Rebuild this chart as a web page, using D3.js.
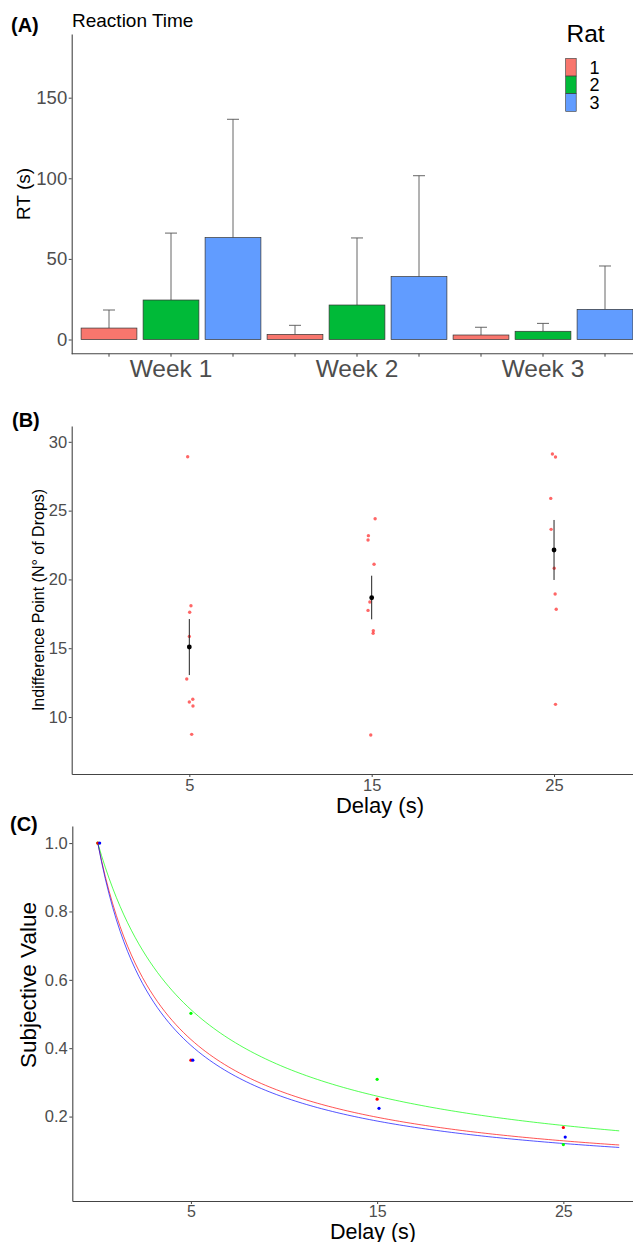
<!DOCTYPE html>
<html>
<head>
<meta charset="utf-8">
<script src="https://cdn.jsdelivr.net/npm/d3@7"></script>
<style>
    body { margin: 0; background: #fff; }
    svg { display: block; font-family: "Liberation Sans", Arial, sans-serif; }
    .tick text { fill: #4d4d4d; }
</style>
</head>
<body>
<svg id="base" width="633" height="1242"></svg>
<script>
// ---- panel A data: reaction time per week / rat
const weeks = ["Week 1", "Week 2", "Week 3"];
const rats = ["1", "2", "3"];
const ratColors = ["#F8766D", "#00BA38", "#619CFF"];
const rtMeanRat1 = [7.1, 3.2, 2.8];
const rtMeanRat2 = [24.5, 21.4, 5.1];
const rtMeanRat3 = [63.2, 39.0, 18.7];
const rtUpperRat1 = [18.3, 8.8, 7.6];
const rtUpperRat2 = [66.0, 63.0, 10.0];
const rtUpperRat3 = [136.6, 101.6, 45.6];
const rtTicks = [0, 50, 100, 150];

// ---- panel B data: indifference points (x = jittered delay)
const ipDelays = [5, 15, 25];
const ipDelay5 = [28.92, 18.09, 17.61, 15.86, 12.76, 11.09, 11.29, 10.8, 8.74];
const ipDelay5X = [4.91, 5.09, 5.02, 5.0, 4.86, 5.0, 5.19, 5.2, 5.13];
const ipDelay15 = [24.41, 23.18, 22.86, 21.1, 18.36, 17.75, 16.27, 16.08, 8.69];
const ipDelay15X = [15.19, 14.82, 14.8, 15.13, 14.9, 14.8, 15.09, 15.08, 14.95];
const ipDelay25 = [29.11, 28.9, 25.89, 23.64, 20.81, 18.94, 17.83, 10.92];
const ipDelay25X = [24.91, 25.08, 24.82, 24.84, 25.01, 25.06, 25.12, 25.08];
const ipMean = [15.09, 18.67, 22.14];
const ipLow = [13.05, 17.1, 19.96];
const ipHigh = [17.12, 20.27, 24.32];
const ipTicks = [10, 15, 20, 25, 30];

// ---- panel C data: subjective value per rat + hyperbolic k
const svColors = ["#ff0000", "#00ff00", "#0000ff"];
const svDelayRat1 = [0, 5, 15, 25];
const svDelayRat2 = [0, 5, 15, 25];
const svDelayRat3 = [0.1, 5.1, 15.1, 25.1];
const svRat1 = [1.0, 0.365, 0.251, 0.168];
const svRat2 = [1.0, 0.502, 0.309, 0.118];
const svRat3 = [1.0, 0.365, 0.224, 0.14];
const kRat = [0.27, 0.19, 0.29];
const svTicks = [0.2, 0.4, 0.6, 0.8, 1.0];
const delayTicks = [5, 15, 25];

const svg = d3.select("#base");
const axisColor = "#444";

function styleAxis(g) {
    g.select(".domain").attr("stroke", axisColor).attr("stroke-width", 1.1);
    g.selectAll(".tick line").attr("stroke", axisColor);
}

function panelLabel(txt, x, y) {
    svg.append("text").attr("x", x).attr("y", y)
        .attr("font-weight", "bold").attr("font-size", 20).text(txt);
}

// ================= (A) =================
panelLabel("(A)", 11, 31.5);
svg.append("text").attr("x", 72).attr("y", 26.5).attr("font-size", 19).text("Reaction Time");

const barData = [];
const means = [rtMeanRat1, rtMeanRat2, rtMeanRat3];
const uppers = [rtUpperRat1, rtUpperRat2, rtUpperRat3];
weeks.forEach((w, wi) => {
    rats.forEach((r, ri) => {
        barData.push({ key: w + "|" + r, week: w, rat: ri, mean: means[ri][wi], upper: uppers[ri][wi] });
    });
});

const xA = d3.scaleBand().domain(barData.map((d) => d.key))
    .range([78, 636]).paddingInner(0.1).paddingOuter(0.05);
const yA = d3.scaleLinear().domain([-8.8, 189.5]).range([353.7, 34]);

// error bars first (whisker hidden behind bar)
const errA = svg.append("g");
barData.forEach((d) => {
    const cx = xA(d.key) + xA.bandwidth() / 2;
    errA.append("line").attr("x1", cx).attr("x2", cx)
        .attr("y1", yA(d.mean)).attr("y2", yA(d.upper))
        .attr("stroke", "#555").attr("stroke-width", 0.9);
    errA.append("line").attr("x1", cx - 6).attr("x2", cx + 6)
        .attr("y1", yA(d.upper)).attr("y2", yA(d.upper))
        .attr("stroke", "#555").attr("stroke-width", 0.9);
});

svg.append("g").selectAll("rect").data(barData).enter().append("rect")
    .attr("x", (d) => xA(d.key))
    .attr("width", xA.bandwidth())
    .attr("y", (d) => yA(d.mean))
    .attr("height", (d) => yA(0) - yA(d.mean))
    .attr("fill", (d) => ratColors[d.rat])
    .attr("stroke", "#333").attr("stroke-width", 0.7);

const axAy = svg.append("g").attr("transform", "translate(71.7,0)")
    .call(d3.axisLeft(yA).tickValues(rtTicks).tickSize(3).tickPadding(1.5).tickSizeOuter(0));
styleAxis(axAy);
axAy.selectAll(".tick text").attr("font-size", 18.5);

const axAx = svg.append("g").attr("transform", "translate(0,353.7)")
    .call(d3.axisBottom(xA).tickSize(3).tickSizeOuter(0)
        .tickFormat((k) => (k.split("|")[1] === "2" ? k.split("|")[0] : "")));
styleAxis(axAx);
axAx.select(".domain").attr("d", "M71.7,0H633");
axAx.selectAll(".tick text").attr("font-size", 24.5).attr("dy", 0).attr("y", 23.5);

svg.append("text").attr("transform", "translate(30,194) rotate(-90)")
    .attr("text-anchor", "middle").attr("font-size", 19).text("RT (s)");

// legend
svg.append("text").attr("x", 566.5).attr("y", 42).attr("font-size", 24.5).text("Rat");
rats.forEach((r, i) => {
    svg.append("rect").attr("x", 565.7).attr("y", 58.5 + i * 17.6)
        .attr("width", 10.5).attr("height", 17.6)
        .attr("fill", ratColors[i]).attr("stroke", "#333").attr("stroke-width", 0.6);
    svg.append("text").attr("x", 589.5).attr("y", 58.5 + i * 17.6 + 15)
        .attr("font-size", 18).text(r);
});

// ================= (B) =================
panelLabel("(B)", 12, 427);

const xB = d3.scaleLinear().domain([-1.45, 29.33]).range([71.7, 633]);
const yB = d3.scaleLinear().domain([5.86, 31.15]).range([774, 426]);

const ipPoints = [];
[[ipDelay5, ipDelay5X], [ipDelay15, ipDelay15X], [ipDelay25, ipDelay25X]].forEach(([vals, xs]) => {
    vals.forEach((v, i) => ipPoints.push({ x: xs[i], y: v }));
});

svg.append("g").selectAll("circle").data(ipPoints).enter().append("circle")
    .attr("cx", (d) => xB(d.x)).attr("cy", (d) => yB(d.y)).attr("r", 1.7)
    .attr("fill", "#ff0000").attr("fill-opacity", 0.6);

const meanB = svg.append("g");
ipDelays.forEach((dl, i) => {
    meanB.append("line").attr("x1", xB(dl)).attr("x2", xB(dl))
        .attr("y1", yB(ipLow[i])).attr("y2", yB(ipHigh[i]))
        .attr("stroke", "#222").attr("stroke-width", 1);
    meanB.append("circle").attr("cx", xB(dl)).attr("cy", yB(ipMean[i]))
        .attr("r", 2.4).attr("fill", "#000");
});

const axBy = svg.append("g").attr("transform", "translate(71.7,0)")
    .call(d3.axisLeft(yB).tickValues(ipTicks).tickSize(3).tickPadding(1.5).tickSizeOuter(0));
styleAxis(axBy);
axBy.selectAll(".tick text").attr("font-size", 16.5);

const axBx = svg.append("g").attr("transform", "translate(0,774)")
    .call(d3.axisBottom(xB).tickValues(delayTicks).tickSize(3).tickSizeOuter(0));
styleAxis(axBx);
axBx.selectAll(".tick text").attr("font-size", 16.5).attr("dy", 0).attr("y", 16.5);

svg.append("text").attr("transform", "translate(44,600) rotate(-90)")
    .attr("text-anchor", "middle").attr("font-size", 16).text("Indifference Point (N° of Drops)");
svg.append("text").attr("x", 380).attr("y", 813).attr("text-anchor", "middle")
    .attr("font-size", 22).text("Delay (s)");

// ================= (C) =================
panelLabel("(C)", 10, 831);

const xC = d3.scaleLinear().domain([-1.37, 28.74]).range([72.3, 633]);
const yC = d3.scaleLinear().domain([-0.047, 1.05]).range([1201, 826]);

const line = d3.line().x((d) => xC(d[0])).y((d) => yC(d[1]));
kRat.forEach((k, i) => {
    const pts = d3.range(0, 28.001, 0.2).map((dl) => [dl, 1 / (1 + k * dl)]);
    svg.append("path").datum(pts).attr("d", line)
        .attr("fill", "none").attr("stroke", svColors[i]).attr("stroke-width", 0.9)
        .attr("stroke-opacity", 0.75);
});

const svSeries = [
    [svDelayRat2, svRat2, 1],
    [svDelayRat1, svRat1, 0],
    [svDelayRat3, svRat3, 2],
];
svSeries.forEach(([xs, ys, ci]) => {
    svg.append("g").selectAll("circle").data(ys).enter().append("circle")
        .attr("cx", (d, i) => xC(xs[i])).attr("cy", (d) => yC(d)).attr("r", 1.6)
        .attr("fill", svColors[ci]);
});

const axCy = svg.append("g").attr("transform", "translate(72.3,0)")
    .call(d3.axisLeft(yC).tickValues(svTicks).tickFormat(d3.format(".1f"))
        .tickSize(3).tickPadding(1.5).tickSizeOuter(0));
styleAxis(axCy);
axCy.selectAll(".tick text").attr("font-size", 16.5);

const axCx = svg.append("g").attr("transform", "translate(0,1201)")
    .call(d3.axisBottom(xC).tickValues(delayTicks).tickSize(3).tickSizeOuter(0));
styleAxis(axCx);
axCx.selectAll(".tick text").attr("font-size", 16).attr("dy", 0).attr("y", 16);

svg.append("text").attr("transform", "translate(36,985) rotate(-90)")
    .attr("text-anchor", "middle").attr("font-size", 22.5).text("Subjective Value");
svg.append("text").attr("x", 373).attr("y", 1238.5).attr("text-anchor", "middle")
    .attr("font-size", 21.5).text("Delay (s)");
</script>
</body>
</html>
